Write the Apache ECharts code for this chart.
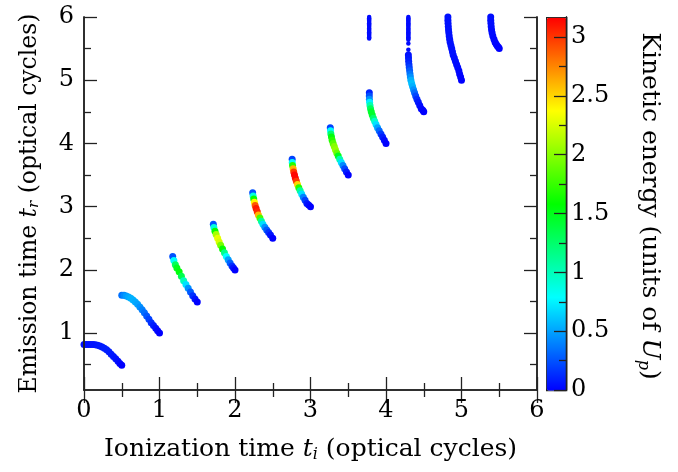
<!DOCTYPE html>
<html>
<head>
<meta charset="utf-8">
<script src="https://cdn.jsdelivr.net/npm/echarts@6/dist/echarts.min.js"></script>
<style>html,body{margin:0;padding:0;background:#fff}#c{width:678px;height:472px}</style>
</head>
<body>
<div id="c"></div>
<script>
// Each point: [ionization time t_i, emission time t_r, kinetic energy (Up)]
const arc0 = [[0.00,0.82,0.05],[0.03,0.82,0.05],[0.06,0.82,0.05],[0.09,0.82,0.05],[0.12,0.818,0.06],[0.15,0.814,0.06],[0.18,0.807,0.07],[0.21,0.796,0.08],[0.24,0.78,0.08],[0.27,0.76,0.09],[0.30,0.735,0.09],[0.33,0.705,0.09],[0.36,0.665,0.08],[0.39,0.63,0.07],[0.42,0.595,0.06],[0.45,0.555,0.04],[0.475,0.52,0.02],[0.50,0.49,0.0]];
const arc1 = [[0.50,1.600,0.35],[0.53,1.598,0.42],[0.56,1.588,0.48],[0.59,1.572,0.52],[0.62,1.552,0.55],[0.65,1.525,0.55],[0.68,1.492,0.53],[0.71,1.455,0.5],[0.74,1.413,0.45],[0.77,1.368,0.4],[0.80,1.320,0.34],[0.83,1.270,0.27],[0.86,1.218,0.2],[0.89,1.165,0.14],[0.92,1.12,0.09],[0.95,1.075,0.05],[0.975,1.038,0.02],[1.00,1.000,0.0]];
const arc2 = [[1.175,2.21,0.25],[1.19,2.15,0.8],[1.21,2.08,1.3],[1.23,2.03,1.5],[1.26,1.97,1.55],[1.29,1.90,1.35],[1.32,1.83,1.0],[1.35,1.77,0.7],[1.38,1.71,0.45],[1.41,1.65,0.28],[1.44,1.59,0.15],[1.47,1.54,0.06],[1.50,1.49,0.0]];
const arc3 = [[1.713,2.72,0.25],[1.72,2.67,0.9],[1.735,2.61,1.6],[1.75,2.56,2.1],[1.77,2.50,2.3],[1.79,2.44,2.25],[1.81,2.39,1.95],[1.835,2.33,1.6],[1.86,2.27,1.15],[1.885,2.21,0.8],[1.91,2.16,0.5],[1.935,2.11,0.3],[1.96,2.06,0.15],[1.98,2.03,0.06],[2.0,2.0,0.0]];
const arc4 = [[2.234,3.22,0.25],[2.24,3.17,0.9],[2.248,3.12,1.6],[2.257,3.07,2.4],[2.267,3.02,2.9],[2.28,2.97,3.1],[2.295,2.92,3.05],[2.31,2.87,2.6],[2.33,2.82,1.8],[2.35,2.77,1.1],[2.37,2.72,0.7],[2.395,2.675,0.45],[2.42,2.63,0.28],[2.445,2.59,0.15],[2.47,2.55,0.06],[2.5,2.5,0.0]];
const arc5 = [[2.757,3.75,0.2],[2.758,3.70,0.8],[2.762,3.65,1.7],[2.77,3.60,2.6],[2.778,3.55,3.0],[2.788,3.50,3.15],[2.80,3.45,3.15],[2.813,3.40,3.0],[2.828,3.35,2.5],[2.845,3.30,1.7],[2.863,3.25,1.1],[2.883,3.20,0.7],[2.905,3.15,0.4],[2.928,3.10,0.2],[2.952,3.05,0.08],[2.976,3.025,0.03],[3.0,3.0,0.0]];
const arc6 = [[3.262,4.25,0.2],[3.265,4.20,0.8],[3.27,4.15,1.25],[3.278,4.10,1.55],[3.287,4.05,1.7],[3.30,4.00,1.85],[3.315,3.95,2.0],[3.33,3.90,2.05],[3.348,3.85,1.9],[3.367,3.80,1.5],[3.387,3.75,1.05],[3.408,3.70,0.7],[3.43,3.65,0.42],[3.452,3.60,0.22],[3.476,3.55,0.08],[3.5,3.5,0.0]];
const arc7 = [[3.779,4.80,0.1],[3.779,4.75,0.25],[3.78,4.70,0.45],[3.783,4.65,0.75],[3.788,4.60,1.05],[3.795,4.55,1.3],[3.805,4.50,1.45],[3.818,4.45,1.45],[3.833,4.40,1.25],[3.85,4.35,0.95],[3.868,4.30,0.7],[3.888,4.25,0.5],[3.91,4.20,0.32],[3.933,4.15,0.18],[3.955,4.10,0.09],[3.978,4.05,0.03],[4.0,4.0,0.0]];
const arc8 = [[4.296,5.40,0.05],[4.298,5.35,0.07],[4.30,5.30,0.1],[4.304,5.25,0.14],[4.308,5.20,0.2],[4.313,5.15,0.28],[4.318,5.10,0.36],[4.323,5.05,0.45],[4.33,5.00,0.55],[4.34,4.95,0.6],[4.352,4.90,0.55],[4.365,4.85,0.45],[4.378,4.80,0.33],[4.393,4.75,0.22],[4.41,4.70,0.13],[4.428,4.65,0.07],[4.447,4.60,0.04],[4.467,4.55,0.02],[4.488,4.525,0.01],[4.5,4.5,0.0]];
const arc9 = [[4.82,6.0,0.05],[4.82,5.95,0.05],[4.822,5.90,0.05],[4.825,5.85,0.05],[4.828,5.80,0.05],[4.832,5.75,0.05],[4.837,5.70,0.05],[4.843,5.65,0.05],[4.85,5.60,0.05],[4.86,5.55,0.05],[4.87,5.50,0.05],[4.88,5.45,0.05],[4.89,5.40,0.05],[4.905,5.35,0.04],[4.92,5.30,0.04],[4.935,5.25,0.03],[4.95,5.20,0.03],[4.965,5.15,0.02],[4.975,5.10,0.02],[4.988,5.05,0.01],[5.0,5.0,0.0]];
const arc10 = [[5.387,6.0,0.04],[5.387,5.95,0.04],[5.39,5.90,0.04],[5.393,5.85,0.04],[5.398,5.80,0.03],[5.405,5.75,0.03],[5.415,5.70,0.03],[5.43,5.65,0.02],[5.445,5.60,0.02],[5.46,5.57,0.01],[5.475,5.54,0.01],[5.49,5.52,0.0],[5.5,5.5,0.0]];
const dots7 = [[3.777,6.0,0.03],[3.777,5.98,0.03],[3.777,5.96,0.03],[3.777,5.94,0.03],[3.777,5.92,0.03],[3.777,5.90,0.03],[3.777,5.88,0.03],[3.777,5.86,0.03],[3.777,5.84,0.03],[3.777,5.82,0.03],[3.777,5.80,0.03],[3.777,5.78,0.03],[3.777,5.76,0.03],[3.777,5.74,0.03],[3.777,5.72,0.03],[3.777,5.70,0.03],[3.777,5.68,0.03],[3.777,5.66,0.03]];
const dots8 = [[4.296,6.0,0.03],[4.296,5.98,0.03],[4.296,5.96,0.03],[4.296,5.94,0.03],[4.296,5.92,0.03],[4.296,5.90,0.03],[4.296,5.88,0.03],[4.296,5.86,0.03],[4.296,5.84,0.03],[4.296,5.82,0.03],[4.296,5.80,0.03],[4.296,5.78,0.03],[4.296,5.76,0.03],[4.296,5.74,0.03],[4.296,5.72,0.03],[4.296,5.70,0.03],[4.296,5.68,0.03],[4.296,5.66,0.03],[4.296,5.64,0.03],[4.296,5.58,0.03],[4.296,5.48,0.03]];

const yMajorTicks = [1, 2, 3, 4, 5, 6];
const yMinorTicks = [0.5, 1.5, 2.5, 3.5, 4.5, 5.5];
const cbMajorTicks = [0, 0.5, 1, 1.5, 2, 2.5, 3];
const cbMinorTicks = [0.25, 0.75, 1.25, 1.75, 2.25, 2.75];
const energyMax = 3.17;

const FONT = 'DejaVu Serif';
const AX = '#222';
const chart = echarts.init(document.getElementById('c'), null, {renderer: 'canvas'});

function rich(size) {
  return {
    n: {fontFamily: FONT, fontSize: size, color: '#000'},
    i: {fontFamily: FONT, fontSize: size, fontStyle: 'italic', color: '#000'},
    s: {fontFamily: FONT, fontSize: Math.round(size * 0.62), fontStyle: 'italic', color: '#000', padding: [Math.round(size * 0.42), 0, 0, 0]}
  };
}

function yAx(pos, ticks, len, labels) {
  return {
    type: 'value', gridIndex: 0, position: pos, min: 0.1, max: 6, z: 3,
    axisLine: {show: true, lineStyle: {color: AX, width: 1.5}},
    axisTick: {show: true, inside: true, length: len, customValues: ticks, lineStyle: {color: AX, width: 1.3}},
    axisLabel: labels ? {show: true, customValues: ticks, margin: 10, fontFamily: FONT, fontSize: 24, color: '#000'} : {show: false},
    splitLine: {show: false}
  };
}
function xAx(pos, labels) {
  return {
    type: 'value', gridIndex: 0, position: pos, min: 0, max: 6, interval: 1, z: 3,
    axisLine: {show: true, lineStyle: {color: AX, width: 1.5}},
    axisTick: {show: true, inside: true, length: 13, lineStyle: {color: AX, width: 1.3}},
    minorTick: {show: true, splitNumber: 2, length: 7, lineStyle: {color: AX, width: 1.3}},
    axisLabel: labels ? {show: true, margin: 9, fontFamily: FONT, fontSize: 24, color: '#000'} : {show: false},
    splitLine: {show: false}, minorSplitLine: {show: false}
  };
}
// colour-bar axis lives in the same grid, shifted to the right edge of the bar
function cbAx(ticks, len, labels) {
  return {
    type: 'value', gridIndex: 0, position: 'right', offset: 29, min: 0, max: energyMax, z: 6,
    axisLine: {show: true, lineStyle: {color: AX, width: 1.3}},
    axisTick: {show: true, inside: true, length: len, customValues: ticks, lineStyle: {color: AX, width: 1.3}},
    axisLabel: labels ? {show: true, customValues: ticks, margin: 5, fontFamily: FONT, fontSize: 24, color: '#000'} : {show: false},
    splitLine: {show: false}
  };
}

const xBottom = xAx('bottom', true);
xBottom.name = '{n|Ionization time }{i|t}{s|i}{n| (optical cycles)}';
xBottom.nameLocation = 'middle';
xBottom.nameGap = 46;
xBottom.nameTextStyle = {rich: rich(25)};

const yLeft = yAx('left', yMajorTicks, 13, true);
yLeft.name = '{n|Emission time }{i|t}{s|r}{n| (optical cycles)}';
yLeft.nameLocation = 'middle';
yLeft.nameGap = 42;
yLeft.nameRotate = 90;
yLeft.nameTextStyle = {rich: rich(23.5)};

const arcs = [arc0, arc1, arc2, arc3, arc4, arc5, arc6, arc7, arc8, arc9, arc10];
const series = arcs.map(a => ({
  type: 'scatter', xAxisIndex: 0, yAxisIndex: 0, data: a,
  symbol: 'circle', symbolSize: 7, silent: true, itemStyle: {opacity: 1}
}));
[dots7, dots8].forEach(d => series.push({
  type: 'scatter', xAxisIndex: 0, yAxisIndex: 0, data: d,
  symbol: 'circle', symbolSize: 4.5, silent: true, itemStyle: {opacity: 1}
}));

chart.setOption({
  animation: false,
  backgroundColor: '#fff',
  grid: [{left: 84, right: 141, top: 17, bottom: 82}],
  xAxis: [xBottom, xAx('top', false)],
  yAxis: [yLeft, yAx('left', yMinorTicks, 7, false), yAx('right', yMajorTicks, 13, false), yAx('right', yMinorTicks, 7, false),
          cbAx(cbMajorTicks, 12, true), cbAx(cbMinorTicks, 7, false)],
  visualMap: {
    type: 'continuous', min: 0, max: energyMax, dimension: 2, z: 1,
    seriesIndex: series.map((s, i) => i),
    left: 546, top: 17, itemWidth: 20, itemHeight: 373, padding: 0,
    borderColor: AX, borderWidth: 1.3,
    calculable: false, realtime: false, hoverLink: false,
    inRange: {color: ['#0000ff', '#0080ff', '#00ffff', '#00ff80', '#00ff00', '#80ff00', '#ffff00', '#ff8000', '#ff0000']}
  },
  graphic: [{
    type: 'text', x: 649, y: 206, rotation: -Math.PI / 2,
    style: {
      text: '{n|Kinetic energy (units of }{i|U}{s|p}{n|)}',
      rich: rich(25), align: 'center', verticalAlign: 'middle'
    }
  }],
  series: series
});
</script>
</body>
</html>
